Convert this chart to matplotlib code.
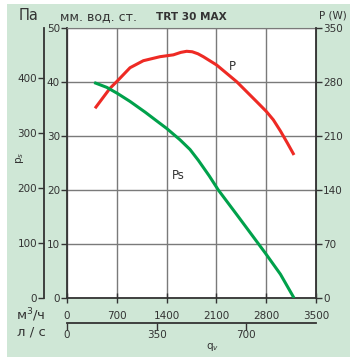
#!/usr/bin/env python3
"""Fan curve TRT 30 MAX: static pressure and input power vs. air flow."""

import matplotlib
matplotlib.use("Agg")
import matplotlib.pyplot as plt

W, H = 357, 359
BG = "#cfe7d6"
GRID = "#7a7a7a"
DARK = "#333333"
RED = "#ee2a24"
GREEN = "#00a14b"

# static pressure, mm w.g., vs. flow in m3/h
ps_flow = [382, 560, 707, 886, 1100, 1250, 1401, 1588, 1729, 1846, 2000, 2127, 2400, 2783, 3000, 3191]
ps_mm = [39.9, 39.0, 37.9, 36.4, 34.4, 32.9, 31.4, 29.3, 27.5, 25.5, 22.6, 20.0, 15.2, 8.4, 4.4, 0.0]

# input power, W, vs. flow in m3/h
p_flow = [394, 604, 707, 886, 1073, 1307, 1495, 1600, 1682, 1760, 1840, 1916, 2104, 2385, 2666, 2800, 2900, 3000, 3100, 3191]
p_watt = [245.9, 271.8, 281.3, 298.5, 307.6, 312.8, 315.2, 318.4, 319.8, 319.2, 316.6, 312.8, 302.0, 280.4, 254.5, 242.0, 231.0, 216.5, 200.5, 185.4]

flow_ticks = [0, 700, 1400, 2100, 2800, 3500]
ls_ticks = [0, 350, 700]
mm_ticks = [0, 10, 20, 30, 40, 50]
pa_ticks = [0, 100, 200, 300, 400]
watt_ticks = [0, 70, 140, 210, 280, 350]


def box(x0, y0, x1, y1):
    """pixel box (top-left origin) -> figure fraction rect"""
    return [x0 / W, 1 - y1 / H, (x1 - x0) / W, (y1 - y0) / H]


fig = plt.figure(figsize=(W / 100, H / 100), dpi=100)
fig.patch.set_facecolor("white")

bg = fig.add_axes(box(7, 4, 350, 357), zorder=-5)
bg.set_facecolor(BG)
bg.set_xticks([])
bg.set_yticks([])
for s in bg.spines.values():
    s.set_visible(False)

x0, y0, x1, y1 = 67, 28, 316, 298
ax = fig.add_axes(box(x0, y0, x1, y1))
ax.set_facecolor("white")
ax.set_xlim(0, 3500)
ax.set_ylim(0, 50)
ax.set_xticks(flow_ticks)
ax.set_yticks(mm_ticks)
ax.grid(True, color=GRID, linewidth=1.0)
for s in ("top", "right"):
    ax.spines[s].set_color(GRID)
for s in ("left", "bottom"):
    ax.spines[s].set_color(DARK)
    ax.spines[s].set_linewidth(1.3)
ax.tick_params(axis="x", direction="inout", length=7, width=1.0, color=DARK,
               labelsize=7.5, labelcolor=DARK, pad=6)
ax.tick_params(axis="y", direction="out", length=4, width=1.0, color=DARK,
               labelsize=7.5, labelcolor=DARK, pad=1)

ax.plot(p_flow, [w * 50 / 350 for w in p_watt], color=RED, linewidth=2.2,
        solid_capstyle="butt", solid_joinstyle="round", zorder=3)
ax.plot(ps_flow, ps_mm, color=GREEN, linewidth=2.2, solid_capstyle="butt",
        solid_joinstyle="round", zorder=3)
ax.text(2330, 42.9, "P", fontsize=8.5, color=DARK, ha="center", va="center")
ax.text(1570, 22.6, "Ps", fontsize=8.5, color=DARK, ha="center", va="center")

# power axis on the right
axw = ax.twinx()
axw.set_ylim(0, 350)
axw.set_yticks(watt_ticks)
for s in ("top", "left", "bottom"):
    axw.spines[s].set_visible(False)
axw.spines["right"].set_color(DARK)
axw.spines["right"].set_linewidth(1.3)
axw.tick_params(axis="y", direction="out", length=4, width=1.0, color=DARK,
                labelsize=7.5, labelcolor=DARK, pad=1)

# pressure in Pa, outer left scale
axp = fig.add_axes(box(44, y0, 45, y1))
axp.patch.set_visible(False)
axp.set_ylim(0, 50 * 9.81)
axp.set_yticks(pa_ticks)
axp.set_xticks([])
for s in ("top", "right", "bottom"):
    axp.spines[s].set_visible(False)
axp.spines["left"].set_color(DARK)
axp.spines["left"].set_linewidth(1.3)
axp.tick_params(axis="y", direction="out", length=4, width=1.0, color=DARK,
                labelsize=7.5, labelcolor=DARK, pad=1)

# flow in l/s, second bottom scale
axl = fig.add_axes(box(x0, 300, x1, 323))
axl.patch.set_visible(False)
axl.set_xlim(0, 3500 / 3.6)
axl.set_xticks(ls_ticks)
axl.set_yticks([])
for s in ("top", "right", "left"):
    axl.spines[s].set_visible(False)
axl.spines["bottom"].set_color(DARK)
axl.spines["bottom"].set_linewidth(1.3)
axl.tick_params(axis="x", direction="out", length=5, width=1.0, color=DARK,
                labelsize=7.5, labelcolor=DARK, pad=0)

fig.text(29 / W, 1 - 16 / H, "Па", fontsize=10.5, color=DARK, ha="center", va="center")
fig.text(98 / W, 1 - 17 / H, "мм. вод. ст.", fontsize=9.0, color=DARK, ha="center", va="center")
fig.text(191 / W, 1 - 17 / H, "TRT 30 MAX", fontsize=7.6, fontweight="bold", color=DARK,
         ha="center", va="center")
fig.text(333 / W, 1 - 16 / H, "P (W)", fontsize=7.5, color=DARK, ha="center", va="center")
fig.text(20 / W, 1 - 158 / H, "p$_s$", fontsize=7.5, color=DARK, ha="center", va="center",
         rotation=90)
fig.text(31 / W, 1 - 315 / H, "м$^3$/ч", fontsize=9.5, color=DARK, ha="center", va="center")
fig.text(31 / W, 1 - 332 / H, "л / с", fontsize=9.5, color=DARK, ha="center", va="center")
fig.text(213 / W, 1 - 347 / H, "q$_v$", fontsize=7.5, color=DARK, ha="center", va="center")

fig.savefig("out.png", dpi=100, facecolor=fig.get_facecolor())
